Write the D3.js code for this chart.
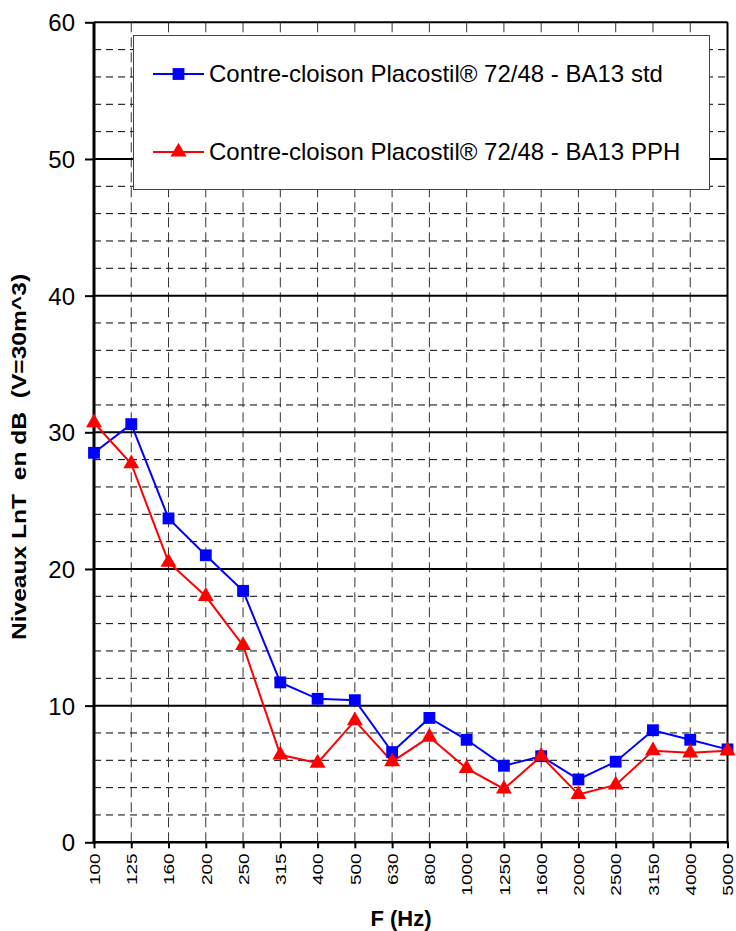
<!DOCTYPE html>
<html><head><meta charset="utf-8">
<script src="https://cdn.jsdelivr.net/npm/d3@7"></script>
<style>html,body{margin:0;padding:0;background:#fff;}svg{display:block;font-family:"Liberation Sans",Arial,sans-serif;}</style>
</head><body><svg id="c" width="736" height="931"></svg>
<script>
const categories = ["100","125","160","200","250","315","400","500","630","800","1000","1250","1600","2000","2500","3150","4000","5000"];
const seriesStd = [28.5,30.6,23.7,21.0,18.4,11.7,10.5,10.4,6.6,9.1,7.5,5.6,6.3,4.6,5.9,8.2,7.5,6.8];
const seriesPPH = [30.7,27.7,20.5,18.0,14.4,6.4,5.8,8.9,5.9,7.7,5.4,3.9,6.3,3.5,4.2,6.7,6.55,6.7];
const yTicks = [0,10,20,30,40,50,60];
const yMinor = [2,4,6,8,12,14,16,18,22,24,26,28,32,34,36,38,42,44,46,48,52,54,56,58];
const seriesNames = ["Contre-cloison Placostil\u00AE 72/48 - BA13 std","Contre-cloison Placostil\u00AE 72/48 - BA13 PPH"];
const xTitle = "F (Hz)";
const yTitle = "Niveaux LnT  en dB  (V=30m^3)";

const svg = d3.select("#c");
const L = 94, R = 727.5, T = 22.3, B = 842.3;
const x = d3.scalePoint().domain(categories).range([L, R]).padding(0);
const y = d3.scaleLinear().domain([0, 60]).range([B, T]);

// minor dashed horizontal grid
svg.append("g").selectAll("line").data(yMinor).join("line")
  .attr("x1", L).attr("x2", R).attr("y1", d => y(d)).attr("y2", d => y(d))
  .attr("stroke", "#000").attr("stroke-width", 1).attr("stroke-dasharray", "7,5");
// vertical dashed grid
svg.append("g").selectAll("line").data(categories.slice(1)).join("line")
  .attr("x1", d => x(d)).attr("x2", d => x(d)).attr("y1", T).attr("y2", B)
  .attr("stroke", "#333").attr("stroke-width", 1).attr("stroke-dasharray", "10,5");
// major grid
svg.append("g").selectAll("line").data(yTicks.filter(d => d > 0)).join("line")
  .attr("x1", L).attr("x2", R).attr("y1", d => y(d)).attr("y2", d => y(d))
  .attr("stroke", "#000").attr("stroke-width", 2);
// right border
svg.append("line").attr("x1", R).attr("x2", R).attr("y1", T).attr("y2", B).attr("stroke", "#000").attr("stroke-width", 2);

// y axis
const yAxis = d3.axisLeft(y).tickValues(yTicks).tickSize(9).tickPadding(10);
const gy = svg.append("g").attr("transform", `translate(${L},0)`).call(yAxis);
gy.select(".domain").attr("stroke-width", 3).attr("d", `M0,${T}V${B+1.5}`);
gy.selectAll(".tick line").attr("stroke-width", 2);
gy.selectAll(".tick text").attr("font-size", 24).attr("font-family", "Liberation Sans, Arial").attr("fill", "#000").attr("dy", "0.36em");

// x axis
const xAxis = d3.axisBottom(x).tickSize(6).tickPadding(5);
const gx = svg.append("g").attr("transform", `translate(0,${B})`).call(xAxis);
gx.select(".domain").attr("stroke-width", 2.5).attr("d", `M${L-1.5},0H${R+1}`);
gx.selectAll(".tick line").attr("stroke-width", 2);
gx.selectAll(".tick text").attr("font-size", 15).attr("font-family", "Liberation Sans, Arial").attr("fill", "#000")
  .attr("transform", "rotate(-90) scale(1.27,1)").attr("text-anchor", "end").attr("x", -8.7).attr("y", 0).attr("dy", "0.35em");

// lines & markers
const line = d3.line().x((d, i) => x(categories[i])).y(d => y(d));
svg.append("path").datum(seriesStd).attr("d", line).attr("fill", "none").attr("stroke", "#0000FF").attr("stroke-width", 2);
svg.append("path").datum(seriesPPH).attr("d", line).attr("fill", "none").attr("stroke", "#FF0000").attr("stroke-width", 2);
const sq = d3.symbol().type(d3.symbolSquare).size(140);
const tri = d3.symbol().type(d3.symbolTriangle).size(110);
svg.append("g").selectAll("path").data(seriesStd).join("path")
  .attr("transform", (d, i) => `translate(${x(categories[i])},${y(d)})`).attr("d", sq).attr("fill", "#0000FF");
svg.append("g").selectAll("path").data(seriesPPH).join("path")
  .attr("transform", (d, i) => `translate(${x(categories[i])},${y(d)})`).attr("d", tri).attr("fill", "#FF0000");

// legend
const lg = svg.append("g");
lg.append("rect").attr("x", 133.5).attr("y", 35.5).attr("width", 576).attr("height", 154)
  .attr("fill", "#fff").attr("stroke", "#444").attr("stroke-width", 1);
const legendRows = [{name: seriesNames[0], color: "#0000FF", sym: sq, yy: 74},{name: seriesNames[1], color: "#FF0000", sym: tri, yy: 152}];
legendRows.forEach(r => {
  lg.append("line").attr("x1", 153).attr("x2", 204).attr("y1", r.yy).attr("y2", r.yy).attr("stroke", r.color).attr("stroke-width", 2);
  lg.append("path").attr("transform", `translate(178.5,${r.yy})`).attr("d", r.sym).attr("fill", r.color);
  lg.append("text").attr("x", 209).attr("y", r.yy).attr("dy", "0.35em").attr("font-size", 24).attr("fill", "#000").text(r.name);
});

// titles
svg.append("text").attr("x", 401).attr("y", 925.5).attr("text-anchor", "middle").attr("font-weight", "bold").attr("font-size", 22).text(xTitle);
svg.append("text").attr("transform", "translate(26,457) rotate(-90) scale(1.23,1)").attr("text-anchor", "middle")
  .attr("font-weight", "bold").attr("font-size", 20).style("white-space", "pre").text(yTitle);
</script></body></html>
